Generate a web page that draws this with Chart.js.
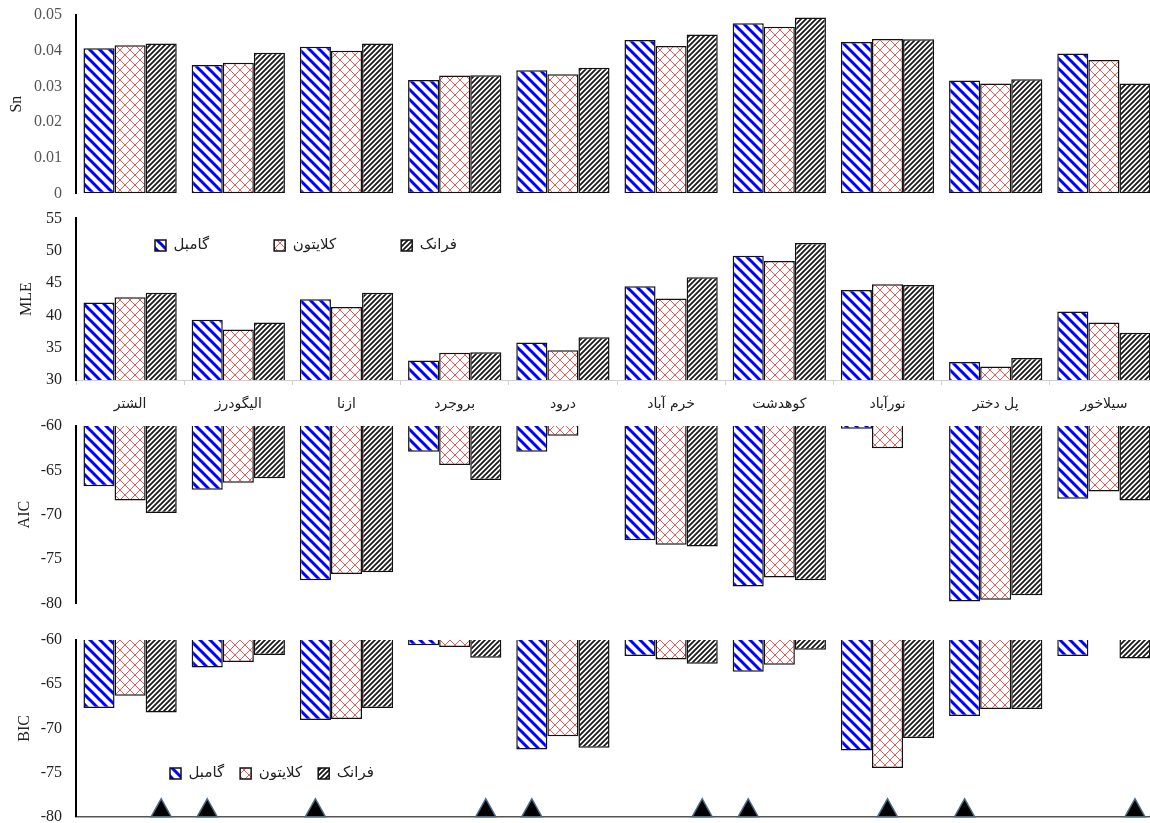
<!DOCTYPE html>
<html lang="fa">
<head>
<meta charset="utf-8">
<title>Sn - MLE - AIC - BIC</title>
<script src="https://cdn.jsdelivr.net/npm/chart.js"></script>
<style>
	html, body {margin:0; padding:0; background:#fff; width:1150px; height:823px; overflow:hidden;}
	canvas {position:absolute; left:0;}
	.leg {pointer-events:none;}
</style>
</head>
<body>
	<canvas id="c_sn" width="1160" height="204" style="top:0px"></canvas>
	<canvas id="c_mle" width="1160" height="220" style="top:200px"></canvas>
	<canvas id="c_aic" width="1160" height="204" style="top:410px"></canvas>
	<canvas id="c_bic" width="1160" height="210" style="top:620px"></canvas>
	<canvas id="leg_mle" class="leg" width="500" height="160" style="top:173px; left:90px"></canvas>
	<canvas id="leg_bic" class="leg" width="400" height="60" style="top:750px; left:154px"></canvas>

<script>
	const stations = ['الشتر', 'الیگودرز', 'ازنا', 'بروجرد', 'درود', 'خرم آباد', 'کوهدشت', 'نورآباد', 'پل دختر', 'سیلاخور'];
	const copulas = ['گامبل', 'کلایتون', 'فرانک'];

	const snGumbel  = [0.0407, 0.0360, 0.0411, 0.0318, 0.0345, 0.0430, 0.0477, 0.0424, 0.0316, 0.0392];
	const snClayton = [0.0415, 0.0366, 0.0400, 0.0330, 0.0334, 0.0413, 0.0467, 0.0433, 0.0308, 0.0374];
	const snFrank   = [0.0420, 0.0394, 0.0420, 0.0331, 0.0352, 0.0445, 0.0493, 0.0432, 0.0320, 0.0308];

	const mleGumbel  = [42.0, 39.3, 42.5, 33.0, 35.8, 44.5, 49.2, 43.9, 32.8, 40.6];
	const mleClayton = [42.8, 37.8, 41.3, 34.2, 34.6, 42.6, 48.4, 44.8, 32.1, 38.9];
	const mleFrank   = [43.5, 38.9, 43.5, 34.3, 36.6, 45.9, 51.2, 44.7, 33.4, 37.3];

	const aicGumbel  = [-66.8, -67.2, -77.4, -62.9, -62.9, -72.9, -78.1, -60.3, -79.8, -68.2];
	const aicClayton = [-68.4, -66.4, -76.7, -64.4, -61.1, -73.4, -77.1, -62.5, -79.6, -67.4];
	const aicFrank   = [-69.8, -65.9, -76.5, -66.1, -60.0, -73.6, -77.4, -60.0, -79.1, -68.4];

	const bicGumbel  = [-67.7, -63.1, -69.05, -60.6, -72.4, -61.8, -63.6, -72.5, -68.6, -61.8];
	const bicClayton = [-66.3, -62.5, -68.95, -60.8, -70.9, -62.2, -62.8, -74.5, -67.8, -60.0];
	const bicFrank   = [-68.2, -61.7, -67.7, -62.0, -72.2, -62.7, -61.1, -71.1, -67.8, -62.1];

	Chart.defaults.font.family = 'Liberation Serif';

	// small tiles used as hatch fills
	function makePattern(size, draw) {
		const c = document.createElement('canvas');
		c.width = size; c.height = size;
		const g = c.getContext('2d');
		g.fillStyle = '#fff';
		g.fillRect(0, 0, size, size);
		draw(g, size);
		return g.createPattern(c, 'repeat');
	}

	const fillGumbel = makePattern(10, function(g, n) {
		g.strokeStyle = '#0000ff'; g.lineWidth = 3;
		g.beginPath();
		for (let k = -n; k <= n; k += n) { g.moveTo(k - 2, -2); g.lineTo(k + n + 2, n + 2); }
		g.stroke();
	});
	const fillClayton = makePattern(10, function(g, n) {
		g.strokeStyle = 'rgba(226,50,50,0.8)'; g.lineWidth = 1;
		g.beginPath();
		for (let k = -n; k <= n; k += n) {
			g.moveTo(k - 2, -2); g.lineTo(k + n + 2, n + 2);
			g.moveTo(k - 2, n + 2); g.lineTo(k + n + 2, -2);
		}
		g.stroke();
	});
	const fillFrank = makePattern(5, function(g, n) {
		g.strokeStyle = '#1a1a1a'; g.lineWidth = 1.8;
		g.beginPath();
		for (let k = -n; k <= n; k += n) { g.moveTo(k - 2, n + 2); g.lineTo(k + n + 2, -2); }
		g.stroke();
	});
	const fills = [fillGumbel, fillClayton, fillFrank];

	function barSets(series) {
		return series.map(function(values, i) {
			return {
				label: copulas[i],
				data: values,
				backgroundColor: fills[i],
				borderColor: '#111',
				borderWidth: 1.5
			};
		});
	}

	// best copula of each station = lowest BIC
	const best = stations.map(function(s, i) {
		const v = [bicGumbel[i], bicClayton[i], bicFrank[i]];
		return v.indexOf(Math.min.apply(null, v));
	});

	const bestMarks = {
		id: 'bestMarks',
		afterDatasetsDraw(chart) {
			const ctx = chart.ctx;
			const base = chart.scales.y.getPixelForValue(chart.scales.y.min);
			best.forEach(function(k, i) {
				const bar = chart.getDatasetMeta(k).data[i];
				ctx.save();
				ctx.beginPath();
				ctx.moveTo(bar.x - 10, base);
				ctx.lineTo(bar.x, base - 18);
				ctx.lineTo(bar.x + 10, base);
				ctx.closePath();
				ctx.fillStyle = '#000';
				ctx.fill();
				ctx.lineWidth = 1.5;
				ctx.strokeStyle = '#4a6c8c';
				ctx.stroke();
				ctx.restore();
			});
		}
	};

	function drawPanel(id, o) {
		return new Chart(document.getElementById(id), {
			type: 'bar',
			data: { labels: stations, datasets: barSets(o.series) },
			options: {
				responsive: false,
				animation: false,
				locale: 'en-US',
				layout: { padding: { top: o.padTop, bottom: o.padBottom, left: 0, right: 2 } },
				datasets: {
					bar: { categoryPercentage: 0.862, barPercentage: 1, borderSkipped: false, minBarLength: 1.5 }
				},
				plugins: { legend: { display: false }, tooltip: { enabled: false } },
				scales: {
					x: o.xAxis,
					y: {
						min: o.min, max: o.max,
						// gap between labels and axis comes from the hidden tick length
						ticks: { stepSize: o.step, padding: 0, color: o.tickColor || '#222', font: { size: 16 } },
						grid: { display: false, drawTicks: true, tickLength: 14 },
						border: { display: true, color: '#000', width: 2 },
						title: {
							display: true, text: o.title, color: '#222',
							font: { size: 16 }, padding: { top: o.titlePad, bottom: 0 }
						},
						afterFit: function(s) { s.width = 76; }
					}
				}
			},
			plugins: o.plugins || []
		});
	}

	function drawLegend(id, pad) {
		return new Chart(document.getElementById(id), {
			type: 'bar',
			data: { labels: [], datasets: barSets([[], [], []]) },
			options: {
				responsive: false,
				animation: false,
				layout: { padding: 0 },
				scales: { x: { display: false }, y: { display: false } },
				plugins: {
					tooltip: { enabled: false },
					legend: {
						display: true, position: 'top', align: 'start',
						labels: { boxWidth: 11, boxHeight: 11, padding: pad, color: '#222', font: { family: 'DejaVu Sans', size: 15 } }
					}
				}
			}
		});
	}

	drawPanel('c_sn', {
		series: [snGumbel, snClayton, snFrank],
		min: 0, max: 0.05, step: 0.01, title: 'Sn', titlePad: 7, tickColor: '#555',
		padTop: 15, padBottom: 10.7,
		xAxis: { display: false }
	});

	drawPanel('c_mle', {
		series: [mleGumbel, mleClayton, mleFrank],
		min: 30, max: 55, step: 5, title: 'MLE', titlePad: 17,
		padTop: 18.3, padBottom: 0,
		xAxis: {
			ticks: { color: '#222', padding: 11, font: { family: 'DejaVu Sans', size: 14 } },
			grid: { display: true, drawOnChartArea: false, drawTicks: true, tickLength: 5, color: '#d0d0d0' },
			border: { display: true, color: '#d0d0d0', width: 1 },
			afterFit: function(s) { s.height = 40; }
		}
	});

	drawPanel('c_aic', {
		series: [aicGumbel, aicClayton, aicFrank],
		min: -80, max: -60, step: 5, title: 'AIC', titlePad: 15,
		padTop: 16, padBottom: 10.7,
		xAxis: { display: false }
	});

	drawPanel('c_bic', {
		series: [bicGumbel, bicClayton, bicFrank],
		min: -80, max: -60, step: 5, title: 'BIC', titlePad: 15,
		padTop: 20, padBottom: 13.3,
		xAxis: {
			ticks: { display: false },
			grid: { display: false },
			border: { display: true, color: '#555', width: 1.5 },
			afterFit: function(s) { s.height = 0; }
		},
		plugins: [bestMarks]
	});

	drawLegend('leg_mle', 65);
	drawLegend('leg_bic', 16);
</script>
</body>
</html>
